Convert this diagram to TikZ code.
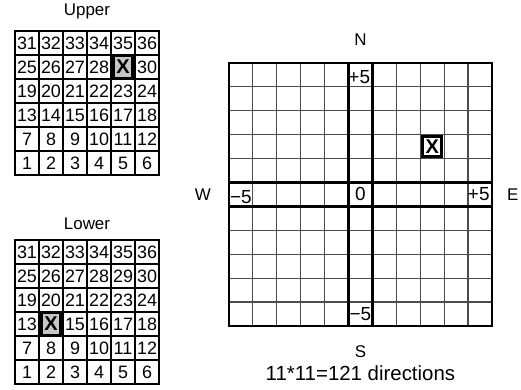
\documentclass[tikz,border=0pt]{standalone}
\usepackage{fontspec}
\setmainfont{Liberation Sans}
\usetikzlibrary{positioning}

\tikzset{
  num/.style={inner sep=0pt, font=\fontsize{18}{18}\selectfont},
  ttl/.style={inner sep=0pt, font=\fontsize{17}{17}\selectfont},
  axl/.style={inner sep=0pt, font=\fontsize{19}{19}\selectfont},
  gline/.style={line width=1.5bp},
  bline/.style={line width=1.1bp, black!70},
  heavy/.style={line width=2.2bp},
  xbox/.style={draw, line width=2.8bp, fill=gray!45, inner sep=0pt,
    minimum width=19bp, minimum height=22bp, font=\fontsize{20}{20}\selectfont\bfseries},
}

\begin{document}
\begin{tikzpicture}[x=1bp, y=-1bp]
  \useasboundingbox (0,0) rectangle (521,389);

  % upper table
  \begin{scope}[shift={(15,31)}, x=24bp, y=-24bp]
    \foreach \i in {0,...,6} {
      \draw[gline] (\i,0) -- (\i,6);
      \draw[gline] (0,\i) -- (6,\i);
    }
    \draw[heavy] (0,0) rectangle (6,6);
    \coordinate (utop) at (3,0);
    \foreach \r in {0,...,5}
      \foreach \c in {0,...,5} {
        \pgfmathtruncatemacro\n{(5-\r)*6+\c+1}
        \ifnum\n=29\else
          \node[num] (u\n) at (\c+0.5,\r+0.5) {\n};
        \fi
      }
    \node[xbox] (u29) at (4.5,1.5) {X};
  \end{scope}
  \node[ttl, above=12bp of utop] (upper) {Upper};

  % lower table
  \begin{scope}[shift={(15,240)}, x=24bp, y=-24bp]
    \foreach \i in {0,...,6} {
      \draw[gline] (\i,0) -- (\i,6);
      \draw[gline] (0,\i) -- (6,\i);
    }
    \draw[heavy] (0,0) rectangle (6,6);
    \coordinate (ltop) at (3,0);
    \foreach \r in {0,...,5}
      \foreach \c in {0,...,5} {
        \pgfmathtruncatemacro\n{(5-\r)*6+\c+1}
        \ifnum\n=14\else
          \node[num] (l\n) at (\c+0.5,\r+0.5) {\n};
        \fi
      }
    \node[xbox] (l14) at (1.5,3.5) {X};
  \end{scope}
  \node[ttl, above=10bp of ltop] (lower) {Lower};

  % direction board
  \begin{scope}[shift={(229,63)}, x=23.9bp, y=-23.9bp]
    \foreach \i in {1,...,10} {
      \draw[bline] (\i,0) -- (\i,11);
      \draw[bline] (0,\i) -- (11,\i);
    }
    \foreach \i in {5,6} {
      \draw[heavy] (\i,0) -- (\i,11);
      \draw[heavy] (0,\i) -- (11,\i);
    }
    \draw[heavy] (0,0) rectangle (11,11);
    \coordinate (btop) at (5.5,0);
    \coordinate (bbot) at (5.5,11);
    \coordinate (bleft) at (0,5.5);
    \coordinate (bright) at (11,5.5);
    \node[axl] (pn) at (5.45,0.6) {+5};
    \node[axl] (mw) at (0.5,5.6) {−5};
    \node[axl] (zero) at (5.5,5.5) {0};
    \node[axl] (pe) at (10.45,5.5) {+5};
    \node[axl] (ms) at (5.5,10.5) {−5};
    \node[xbox, fill=white, minimum width=19bp, minimum height=20bp] (dir) at (8.5,3.5) {X};
  \end{scope}

  \node[ttl, above=17bp of btop] (north) {N};
  \node[ttl, below=20bp of bbot] (south) {S};
  \node[ttl, left=18bp of bleft] (west) {W};
  \node[ttl, right=15bp of bright] (east) {E};
  \node[inner sep=0pt, font=\fontsize{20.5}{20.5}\selectfont, below=7bp of south] (caption) {11*11=121 directions};
\end{tikzpicture}
\end{document}
